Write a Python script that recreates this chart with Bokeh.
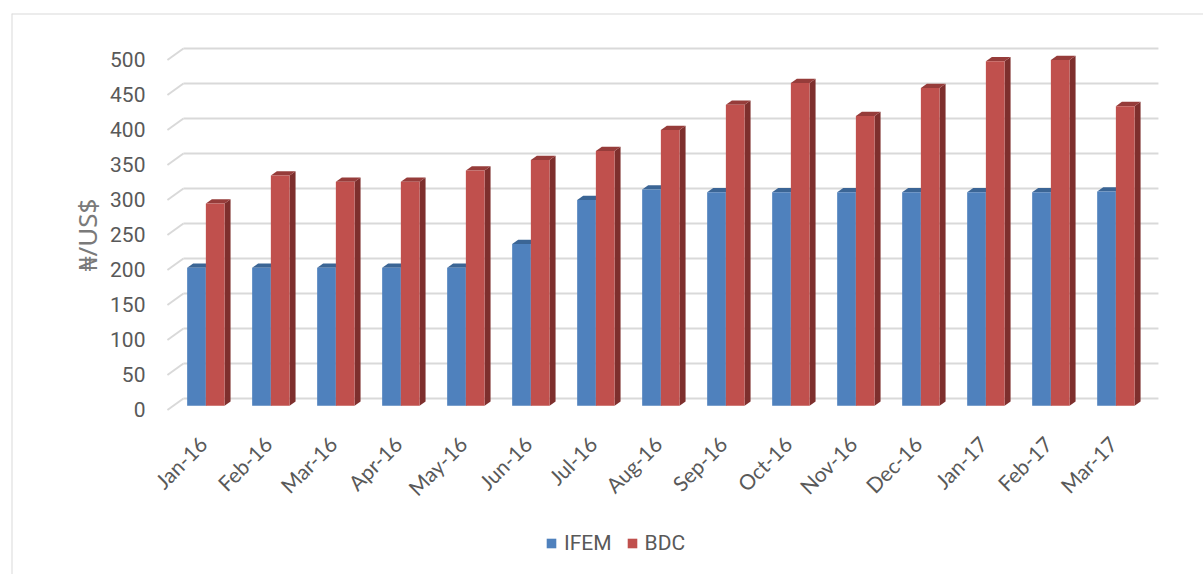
import math
from bokeh.plotting import figure
from bokeh.models import Range1d, Legend, LegendItem
from bokeh.core.properties import value
from bokeh.embed import file_html
from bokeh.resources import INLINE

# ---- data -------------------------------------------------------------
months = ["Jan-16", "Feb-16", "Mar-16", "Apr-16", "May-16", "Jun-16", "Jul-16",
          "Aug-16", "Sep-16", "Oct-16", "Nov-16", "Dec-16", "Jan-17", "Feb-17", "Mar-17"]
ifem = [197, 197, 197, 197, 197, 231, 294, 309, 305, 305, 305, 305, 305, 305, 306]
bdc = [289, 329, 320, 320, 336, 351, 364, 394, 430, 461, 414, 454, 492, 494, 428]
y_ticks = [0, 50, 100, 150, 200, 250, 300, 350, 400, 450, 500]
series_names = ["IFEM", "BDC"]
y_title = "₦/US$"

# ---- pseudo-3D geometry (data units) ----------------------------------
PX_PER_CAT = 65.0          # pixels per category
PX_PER_UNIT = 0.70         # pixels per naira
DEPTH_X = 16.0 / PX_PER_CAT            # floor depth, horizontal component
DEPTH_Y = 11.5 / PX_PER_UNIT           # floor depth, vertical component
BAR_FRAC = 0.37                        # bars sit this far back on the floor
BAR_W = 18.7 / PX_PER_CAT              # width of one bar face
SIDE_X = 6.0 / PX_PER_CAT              # bar thickness, horizontal
SIDE_Y = 4.3 / PX_PER_UNIT             # bar thickness, vertical
BASE = BAR_FRAC * DEPTH_Y              # bar foot level
FLOOR_L = -0.5 - BAR_FRAC * DEPTH_X
FLOOR_R = len(months) - 0.5 - BAR_FRAC * DEPTH_X
BACK_L = FLOOR_L + DEPTH_X
BACK_R = FLOOR_R + DEPTH_X

X_START, X_END = -2.99, 15.348
Y_START, Y_END = -235.0, 566.4

TXT = "#595959"
GRID = "#D9D9D9"

p = figure(width=1203, height=574, output_backend="svg", toolbar_location=None,
           x_range=Range1d(X_START, X_END), y_range=Range1d(Y_START, Y_END),
           x_axis_location=None, y_axis_location=None,
           min_border_left=11, min_border_top=13, min_border_right=0, min_border_bottom=0)
p.grid.visible = False
p.outline_line_color = None
p.background_fill_color = "white"
p.border_fill_color = "white"

# chart border (top and left edges)
p.segment(x0=[X_START, X_START], y0=[Y_END, Y_START], x1=[X_END, X_START], y1=[Y_END, Y_END],
          line_color=GRID, line_width=2)

# back wall gridlines and their diagonal connectors to the front
p.segment(x0=[BACK_L] * len(y_ticks), y0=[t + DEPTH_Y for t in y_ticks],
          x1=[BACK_R] * len(y_ticks), y1=[t + DEPTH_Y for t in y_ticks],
          line_color=GRID, line_width=2)
p.segment(x0=[FLOOR_L] * len(y_ticks), y0=y_ticks,
          x1=[BACK_L] * len(y_ticks), y1=[t + DEPTH_Y for t in y_ticks],
          line_color=GRID, line_width=2)

# y tick labels
p.text(x=[FLOOR_L] * len(y_ticks), y=y_ticks, text=[str(t) for t in y_ticks],
       x_offset=-22, text_align="right", text_baseline="middle",
       text_font=value("Roboto"), text_font_size="21px", text_color=TXT)

# y axis title
p.text(x=[FLOOR_L], y=[250], text=[y_title], angle=math.pi / 2, x_offset=-80,
       text_align="center", text_baseline="middle",
       text_font=value("Noto Sans"), text_font_size="26px", text_color="#7A7A7A")

idx = list(range(len(months)))


def bar_set(vals, left_shift, front, side, top):
    x0 = [i + left_shift for i in idx]
    x1 = [x + BAR_W for x in x0]
    tops = [BASE + v for v in vals]
    side_xs = [[a, a + SIDE_X, a + SIDE_X, a] for a in x1]
    side_ys = [[BASE, BASE + SIDE_Y, t + SIDE_Y, t] for t in tops]
    top_xs = [[a, b, b + SIDE_X, a + SIDE_X] for a, b in zip(x0, x1)]
    top_ys = [[t, t, t + SIDE_Y, t + SIDE_Y] for t in tops]
    p.patches(side_xs, side_ys, fill_color=side, line_color=None)
    p.patches(top_xs, top_ys, fill_color=top, line_color=None)
    return p.quad(left=x0, right=x1, bottom=[BASE] * len(vals), top=tops,
                  fill_color=front, line_color=None)


r_ifem = bar_set(ifem, -BAR_W, "#4F81BD", "#385D8A", "#3B6595")
r_bdc = bar_set(bdc, 0.0, "#C0504D", "#7E2F2D", "#963C3A")

# category labels
p.text(x=idx, y=[0] * len(idx), text=months, angle=math.pi / 4,
       x_offset=-3, y_offset=30, text_align="right", text_baseline="middle",
       text_font=value("Lato"), text_font_size="21px", text_color=TXT)

legend = Legend(items=[LegendItem(label=series_names[0], renderers=[r_ifem]),
                       LegendItem(label=series_names[1], renderers=[r_bdc])],
                orientation="horizontal", location=(534, 19),
                glyph_width=12, glyph_height=12, label_standoff=7, spacing=14,
                padding=0, margin=0, border_line_color=None, background_fill_alpha=0,
                label_text_font="Roboto", label_text_font_size="21px",
                label_text_color=TXT)
p.add_layout(legend)

open("out.html", "w").write(file_html(p, INLINE))
